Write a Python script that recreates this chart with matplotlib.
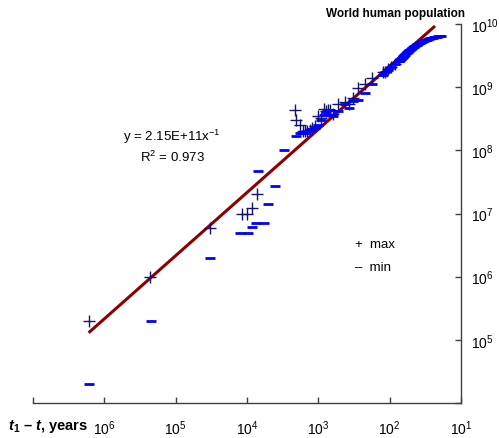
import numpy as np
import matplotlib
matplotlib.use("Agg")
from matplotlib import pyplot as plt
from matplotlib.ticker import FixedLocator, NullLocator

plt.rcParams['font.family'] = ['Liberation Sans', 'DejaVu Sans']
plt.rcParams['mathtext.fontset'] = 'custom'
plt.rcParams['mathtext.rm'] = 'Liberation Sans'
plt.rcParams['mathtext.it'] = 'Liberation Sans:italic'
plt.rcParams['mathtext.bf'] = 'Liberation Sans:bold'
plt.rcParams['mathtext.bfit'] = 'Liberation Sans:italic:bold'

T1 = 2025

# earliest estimates, x = years before t1
early_x_max = [1.64e6, 2.3e5, 3.3e4, 1.17e4, 1.0e4, 8.5e3, 7.2e3, 2.1e3]
early_y_max = [2.0e5, 1.0e6, 6.0e6, 1.0e7, 1.0e7, 1.2e7, 2.0e7, 4.4e8]
early_x_min = [1.64e6, 2.2e5, 3.3e4, 1.26e4, 9.7e3, 8.5e3, 7.4e3, 5.7e3, 5.0e3,
               4.0e3, 6.9e3, 3.0e3]
early_y_min = [2.0e4, 2.0e5, 2.0e6, 5.0e6, 5.0e6, 6.2e6, 7.0e6, 7.0e6, 1.4e7,
               2.75e7, 4.7e7, 1.0e8]

# historical estimates, millions
hist_years = [1, 200, 400, 500, 600, 700, 800, 900, 1000, 1100,
              1200, 1250, 1300, 1340, 1400, 1500, 1600, 1650, 1700, 1750,
              1800, 1850, 1900, 1910, 1920, 1930, 1940]
hist_low = [170, 190, 190, 190, 200, 207, 220, 226, 254, 301,
            360, 400, 360, 443, 350, 425, 545, 470, 600, 629,
            813, 1128, 1550, 1750, 1860, 2070, 2300]
hist_high = [300, 256, 206, 206, 206, 210, 224, 240, 345, 320,
             450, 416, 432, 443, 374, 540, 579, 545, 679, 961,
             1125, 1402, 1762, 1750, 1917, 2070, 2300]

# annual estimates 1950-2006, millions
annual_years = list(range(1950, 2007))
annual_pop = [2557, 2594, 2636, 2682, 2730, 2782, 2835, 2891, 2948, 3001,
              3043, 3084, 3140, 3210, 3281, 3350, 3421, 3490, 3562, 3637,
              3713, 3790, 3867, 3942, 4016, 4088, 4159, 4231, 4303, 4378,
              4454, 4530, 4610, 4690, 4770, 4851, 4933, 5018, 5105, 5190,
              5275, 5359, 5441, 5521, 5599, 5676, 5752, 5828, 5903, 5978,
              6053, 6127, 6200, 6272, 6345, 6418, 6492]

# power law fit y = a * x^b
fit_a, fit_b = 2.15e11, -1
fit_x = np.array([1.6e6, 24])

hist_x = T1 - np.array(hist_years)
annual_x = T1 - np.array(annual_years)

fig = plt.figure(figsize=(4.99, 4.39), dpi=100)
ax = fig.add_axes([33/499, 35/439, 428/499, 379/439])

ax.plot(fit_x, fit_a*fit_x**fit_b, c="#8b0000", lw=2.2, zorder=1)

ax.plot(early_x_max, early_y_max, '+', c="#14146e", ms=9, mew=1, zorder=2)
ax.plot(hist_x, np.array(hist_high)*1e6, '+', c="#14146e", ms=9, mew=1, zorder=2)
ax.plot(early_x_min, early_y_min, '_', c="#0000ff", ms=7.5, mew=2, zorder=3)
ax.plot(hist_x, np.array(hist_low)*1e6, '_', c="#0000ff", ms=7.5, mew=2, zorder=3)
ax.plot(annual_x, np.array(annual_pop)*1e6, '_', c="#0000ff", ms=7.5, mew=2, zorder=3)

ax.set_xscale('log')
ax.set_yscale('log')
ax.set_xlim(1e7, 1e1)
ax.set_ylim(1e4, 1e10)

xt = [1e7, 1e6, 1e5, 1e4, 1e3, 1e2, 1e1]
ax.xaxis.set_major_locator(FixedLocator(xt))
ax.xaxis.set_minor_locator(NullLocator())
ax.set_xticklabels([''] + [r'$10^{%d}$' % p for p in range(6, 0, -1)])
yt = [1e4, 1e5, 1e6, 1e7, 1e8, 1e9, 1e10]
ax.yaxis.set_major_locator(FixedLocator(yt))
ax.yaxis.set_minor_locator(NullLocator())
ax.yaxis.tick_right()
ax.set_yticklabels([''] + [r'$10^{%d}$' % p for p in range(5, 11)])

for s in ['top', 'left']:
    ax.spines[s].set_visible(False)
for s in ['bottom', 'right']:
    ax.spines[s].set_color('#404040')
    ax.spines[s].set_linewidth(1)
ax.tick_params(direction='in', length=4, width=1, color='#404040', labelsize=10)
ax.tick_params(axis='x', pad=11)
ax.tick_params(axis='y', pad=7)

fig.text(172/499, 1-137/439, r'y = 2.15E+11x$^{-1}$', ha='center', va='center', fontsize=9.5)
fig.text(172/499, 1-157/439, r'R$^{2}$ = 0.973', ha='center', va='center', fontsize=9.5)
fig.text(355/499, 1-245/439, '+  max', ha='left', va='center', fontsize=9.5)
fig.text(355/499, 1-268/439, '–  min', ha='left', va='center', fontsize=9.5)
fig.text(465/499, 1-14/439, 'World human population', ha='right', va='center',
         fontsize=8.5, fontweight='bold')
fig.text(8/499, 1-427/439, r'$\mathbfit{t}_{\mathbf{1}}$ – $\mathbfit{t}$, years',
         ha='left', va='center', fontsize=10.5, fontweight='bold')

plt.savefig("out.png", dpi=100)
